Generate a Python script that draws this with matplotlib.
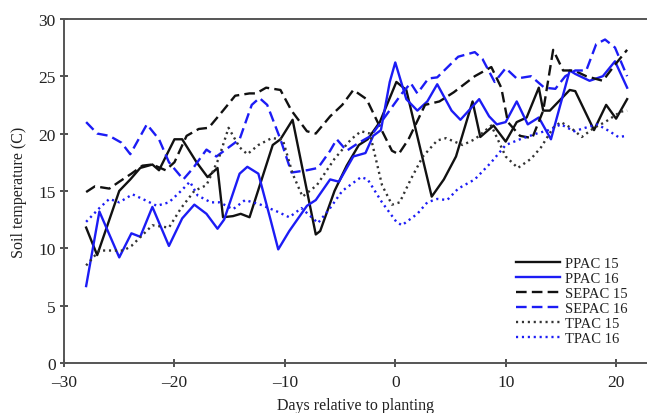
import matplotlib
matplotlib.use("Agg")
import matplotlib.pyplot as plt

# ---- data ----
ppac15_x = [-28, -27, -25, -24, -23.1, -22, -21.4, -20, -19.3, -18, -17, -16.1, -15.6, -14.7, -14, -13.2,
            -11.1, -10.4, -9.3, -7.2, -6.8, -5.5, -4.4, -3.3, -2.5, -1.4, 0.1, 1, 3.3, 4.4, 5.5, 7, 7.7,
            8.9, 10, 11, 11.9, 13, 13.4, 14, 15.8, 16.3, 18, 19.1, 20, 21]
ppac15_y = [11.8, 9.4, 15.0, 16.0, 17.0, 17.3, 16.8, 19.5, 19.5, 17.5, 16.2, 17.0, 12.7, 12.8, 13.0, 12.7,
            19.0, 19.5, 21.2, 11.2, 11.5, 15.0, 17.2, 19.0, 19.5, 21.0, 24.5, 23.8, 14.5, 16.0, 18.0, 22.8, 19.7,
            20.7, 19.3, 21.0, 21.4, 24.0, 22.0, 22.0, 23.8, 23.7, 20.3, 22.5, 21.3, 23.0]

ppac16_x = [-28, -26.8, -25, -23.9, -23.1, -22, -20.5, -19.3, -18.2, -17.1, -16.1, -15.5, -14.1, -13.4, -12.4,
            -11.3, -10.6, -9.6, -8, -7.2, -5.9, -5.1, -3.8, -2.7, -2, -1.3, -0.5, 0, 1, 2, 2.9, 3.8, 5.1, 5.9,
            7.6, 8.5, 9.2, 10, 11, 12, 13, 14.1, 15.8, 16.3, 17.6, 18.8, 19.9, 21]
ppac16_y = [6.7, 13.2, 9.2, 11.3, 11.0, 13.6, 10.2, 12.6, 13.8, 13.0, 11.7, 12.5, 16.5, 17.1, 16.5,
            12.5, 9.9, 11.5, 13.7, 14.2, 16.0, 15.8, 18.0, 18.3, 19.8, 20.3, 24.5, 26.2, 23.0, 22.0, 22.8, 24.3,
            22.0, 21.2, 23.0, 21.5, 20.8, 21.0, 22.8, 20.8, 21.4, 19.5, 25.5, 25.2, 24.6, 25.0, 26.3, 24.0]

sepac15_x = [-28, -27.2, -25.9, -25, -23.9, -22.9, -22, -20.8, -20, -18.9, -17.8, -16.9, -15.6, -14.5, -13.2,
             -12.6, -11.7, -10.4, -9.4, -8, -7.2, -5.9, -4.8, -3.8, -2.6, -1.6, -0.3, 0.3, 1.2, 2.7, 4, 5.3,
             7.2, 8.7, 9.6, 10.2, 11.3, 12.4, 13.4, 14.3, 15.2, 16.2, 17.3, 18.8, 19.9, 21]
sepac15_y = [14.9, 15.4, 15.2, 15.8, 16.5, 17.2, 17.3, 16.8, 17.5, 19.8, 20.4, 20.5, 22.0, 23.3, 23.5,
             23.5, 24.0, 23.8, 22.0, 20.2, 20.0, 21.5, 22.5, 23.8, 23.0, 21.0, 18.5, 18.2, 19.5, 22.5, 22.8, 23.6,
             25.0, 25.8, 24.0, 21.0, 19.8, 19.6, 22.0, 27.3, 25.5, 25.5, 25.0, 24.6, 26.0, 27.3]

sepac16_x = [-28, -27, -25.9, -24.8, -24, -22.5, -21.4, -20.5, -19.2, -18.3, -17.1, -16.2, -14.1, -13, -12.3,
             -11.6, -10.4, -9.4, -8, -7, -5.9, -5.3, -4.4, -3.3, -2.2, -0.9, 0.6, 1.4, 2, 3, 3.8, 5.7, 7.2,
             7.9, 9, 10, 11, 12.3, 13.5, 14.5, 15.4, 16.3, 17.3, 18.2, 19, 19.9, 21]
sepac16_y = [21.0, 20.0, 19.8, 19.2, 18.2, 20.8, 19.5, 17.5, 16.0, 17.0, 18.6, 18.0, 19.5, 22.5, 23.1,
             22.5, 19.5, 16.6, 16.8, 17.0, 18.5, 19.5, 18.5, 19.2, 19.8, 21.5, 23.5, 24.4, 23.5, 24.8, 24.9, 26.7, 27.1,
             26.5, 24.5, 25.7, 24.8, 25.0, 24.0, 23.9, 25.0, 25.5, 25.5, 27.8, 28.2, 27.5, 25.0]

tpac15_x = [-28, -26.8, -24.6, -23.9, -22, -20.5, -19.4, -18.2, -17.1, -16, -15.1, -14.1, -13.4, -12.4,
            -11.2, -10.2, -9.3, -8.4, -7.1, -5.5, -4, -3.1, -2.3, -1.2, -0.3, 0.4, 1.4, 2.5, 3.8, 4.6, 6.1,
            7.2, 8.7, 10, 11.1, 12.3, 13.2, 14.3, 15, 15.9, 16.9, 18, 19, 20.4, 21]
tpac15_y = [8.5, 9.8, 9.8, 10.2, 12.0, 11.8, 13.5, 15.0, 15.5, 17.8, 20.5, 18.8, 18.2, 19.0,
            19.6, 19.5, 16.5, 14.5, 15.5, 17.8, 19.5, 20.2, 20.0, 15.5, 13.8, 14.0, 16.0, 18.0, 19.4, 19.6, 19.0,
            19.5, 20.7, 18.0, 17.0, 17.8, 18.8, 20.5, 21.0, 20.5, 19.7, 20.5, 21.0, 21.9, 22.0]

tpac16_x = [-28, -26.8, -25.9, -25, -23.8, -22.9, -21.6, -20.5, -19.4, -18.6, -17.9, -16.7, -15.9, -14.7,
            -13.6, -12.2, -10.7, -9.6, -8.5, -7, -5.9, -4.8, -3.1, -2.5, -1.2, 0.1, 0.6, 2, 2.9, 3.8, 4.7,
            5.7, 7.2, 8.7, 10, 11.3, 12.8, 13.9, 15, 16.2, 17.2, 18.3, 19.4, 20.2, 21]
tpac16_y = [12.3, 13.5, 14.3, 14.0, 14.7, 14.3, 13.7, 14.0, 15.0, 15.8, 14.6, 14.0, 14.0, 13.4,
            14.2, 13.8, 13.2, 12.7, 13.5, 12.2, 13.5, 15.0, 16.2, 16.0, 14.0, 12.3, 12.0, 13.0, 14.0, 14.3, 14.2,
            15.2, 16.0, 17.5, 19.0, 19.5, 20.0, 20.3, 20.8, 20.2, 20.5, 20.8, 20.2, 19.7, 19.8]

labels = ["PPAC 15", "PPAC 16", "SEPAC 15", "SEPAC 16", "TPAC 15", "TPAC 16"]
x_ticks = [-30, -20, -10, 0, 10, 20]
y_ticks = [0, 5, 10, 15, 20, 25, 30]

# ---- styling ----
plt.rcParams['font.family'] = ['Liberation Serif', 'DejaVu Serif']
BLACK = '#111111'
BLUE = '#1c1cf5'
dashed = (0, (4.5, 2.2))
dotted = (0, (0.9, 1.6))

fig = plt.figure(figsize=(6.47, 4.14), dpi=100)
ax = fig.add_axes([0.099, 0.121, 0.901, 0.831])

series = [
    (ppac15_x, ppac15_y, BLACK, '-'),
    (ppac16_x, ppac16_y, BLUE, '-'),
    (sepac15_x, sepac15_y, BLACK, dashed),
    (sepac16_x, sepac16_y, BLUE, dashed),
    (tpac15_x, tpac15_y, '#333333', dotted),
    (tpac16_x, tpac16_y, BLUE, dotted),
]
for (xs, ys, c, ls), lab in zip(series, labels):
    ax.plot(xs, ys, color=c, linestyle=ls, linewidth=1.7, label=lab,
            solid_joinstyle='round', dash_joinstyle='round')

ax.set_xlim(-30, 22.8)
ax.set_ylim(0, 30)
ax.set_xticks(x_ticks)
ax.set_yticks(y_ticks)
ax.set_xticklabels([str(t).replace('-', '\u2013') for t in x_ticks])
ax.tick_params(direction='inout', length=6, width=1.2, labelsize=12.5, colors='#333333',
               labelcolor='#222222')
ax.tick_params(axis='x', pad=5)
ax.tick_params(axis='y', pad=3)
for s in ['left', 'bottom', 'top']:
    ax.spines[s].set_color('#555555')
    ax.spines[s].set_linewidth(1.4)
ax.spines['right'].set_visible(False)

ax.set_xlabel("Days relative to planting", fontsize=11.5, color='#222222', labelpad=5)
ax.set_ylabel("Soil temperature (C)", fontsize=11.5, color='#222222', labelpad=8)

leg = ax.legend(loc='lower right', bbox_to_anchor=(0.99, 0.015), frameon=False, fontsize=10.5,
                handlelength=3.0, labelspacing=0.12, handletextpad=0.4)
for t in leg.get_texts():
    t.set_color('#222222')

fig.savefig("out.png", dpi=100)
